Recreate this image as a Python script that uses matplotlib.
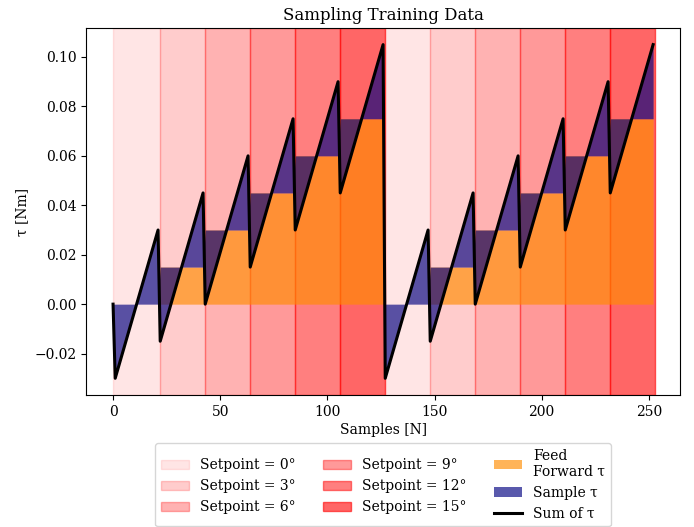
import matplotlib
matplotlib.use("Agg")
import matplotlib.pyplot as plt
from matplotlib.lines import Line2D

plt.rcParams['font.family'] = 'DejaVu Serif'

# setpoint blocks (start/end sample of each block)
setpoints = [0, 3, 6, 9, 12, 15]
span_edges = [0, 22, 43, 64, 85, 106, 127, 148, 169, 190, 211, 232, 253]
span_alpha = [0.1, 0.2, 0.3, 0.4, 0.5, 0.6]

# vertices of the torque trace: first/last sample of each segment
seg_start = [1, 22, 43, 64, 85, 106, 127, 148, 169, 190, 211, 232]
seg_end = [21, 42, 63, 84, 105, 126, 147, 168, 189, 210, 231, 252]
feed_forward = [0.0, 0.015, 0.03, 0.045, 0.06, 0.075,
                0.0, 0.015, 0.03, 0.045, 0.06, 0.075]
sample_low = [-0.03] * 12
sample_high = [0.03] * 12

# build vertex lists
x = [0]
ff = [0.0]
total = [0.0]
for s, e, f, lo, hi in zip(seg_start, seg_end, feed_forward, sample_low, sample_high):
    x += [s, e]
    ff += [f, f]
    total += [f + lo, f + hi]

fig = plt.figure(figsize=(6.94, 5.27), dpi=100)
ax = fig.add_axes([0.124, 0.2505, 0.856, 0.6965])

handles = []
for i in range(len(span_edges) - 1):
    k = i % 6
    p = ax.axvspan(span_edges[i], span_edges[i + 1], color='red',
                   alpha=span_alpha[k],
                   label=f"Setpoint = {setpoints[k]}°")
    if i < 6:
        handles.append(p)

h_ff = ax.fill_between(x, 0, ff, color='darkorange', alpha=0.65,
                       linewidth=0, label="Feed\nForward τ")
h_s = ax.fill_between(x, ff, total, color='navy', alpha=0.65,
                      linewidth=0, label="Sample τ")
ax.plot(x, total, color='black', linewidth=2.2)
h_sum = Line2D([], [], color='black', linewidth=2.2, label="Sum of τ")
handles += [h_ff, h_s, h_sum]

ax.set_xlim(-12.6, 264.6)
ax.set_ylim(-0.03675, 0.11175)
ax.set_title("Sampling Training Data")
ax.set_xlabel("Samples [N]", labelpad=3)
ax.set_ylabel("τ [Nm]")

fig.legend(handles=handles, ncol=3, loc='upper center', borderaxespad=0,
           bbox_to_anchor=(0.552, 0.159))

fig.savefig("out.png", dpi=100)
